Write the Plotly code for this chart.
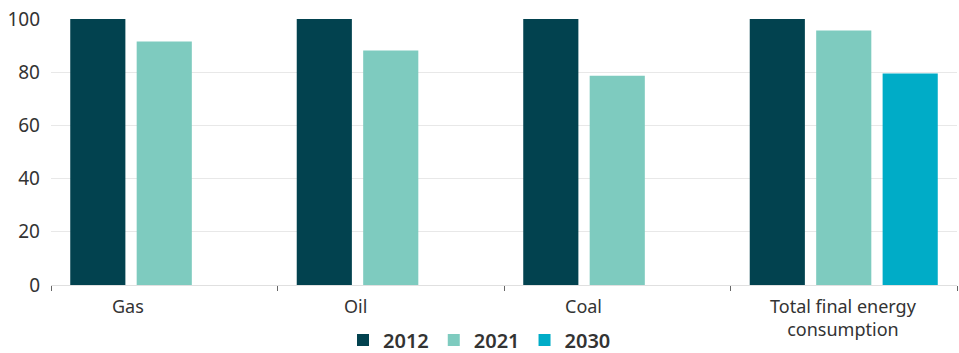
import plotly.graph_objects as go

categories = ["Gas", "Oil", "Coal", "Total final energy consumption"]
cat_labels = ["Gas", "Oil", "Coal", "Total final energy<br>consumption"]
label_shift = [-36, -35, -34, 0]
series_names = ["2012", "2021", "2030"]
v2012 = [100, 100, 100, 100]
v2021 = [91.5, 88.2, 78.7, 95.7]
v2030 = [None, None, None, 79.5]
colors = ["#02424F", "#7ECBBF", "#00ACC7"]
y_ticks = [0, 20, 40, 60, 80, 100]

font = "Noto Sans"
fig = go.Figure()
for name, vals, c in zip(series_names, [v2012, v2021, v2030], colors):
    fig.add_trace(go.Bar(x=categories, y=vals, name=name, marker_color=c, marker_line_width=0))

for cat, lab, sh in zip(categories, cat_labels, label_shift):
    fig.add_annotation(x=cat, y=0, xref="x", yref="paper", text=lab, showarrow=False,
                       xshift=sh, yanchor="top", yshift=-7,
                       font=dict(family=font, size=18, color="#333333"))

fig.update_layout(
    width=959, height=353,
    margin=dict(l=51, r=2, t=19, b=68),
    paper_bgcolor="white", plot_bgcolor="white",
    barmode="group", bargap=0.12, bargroupgap=0.17,
    font=dict(family=font, color="#333333"),
    legend=dict(orientation="h", xref="container", yref="container", x=0.5, xanchor="center",
                y=0.037, yanchor="middle", font=dict(family=font, size=20, color="#333333", weight=600),
                itemwidth=30, traceorder="normal"),
    showlegend=True,
)
fig.update_xaxes(showticklabels=False, ticks="outside", tickson="boundaries", ticklen=5,
                 tickcolor="#666666", showline=True, linecolor="#e0e0e0", linewidth=1, showgrid=False)
fig.update_yaxes(range=[0, 100], tickvals=y_ticks, showgrid=True, gridcolor="#e8e8e8", gridwidth=1,
                 zeroline=False, showline=False, tickfont=dict(family=font, size=19, color="#333333"),
                 ticks="", ticklabelstandoff=10)

fig.write_html("out.html")
